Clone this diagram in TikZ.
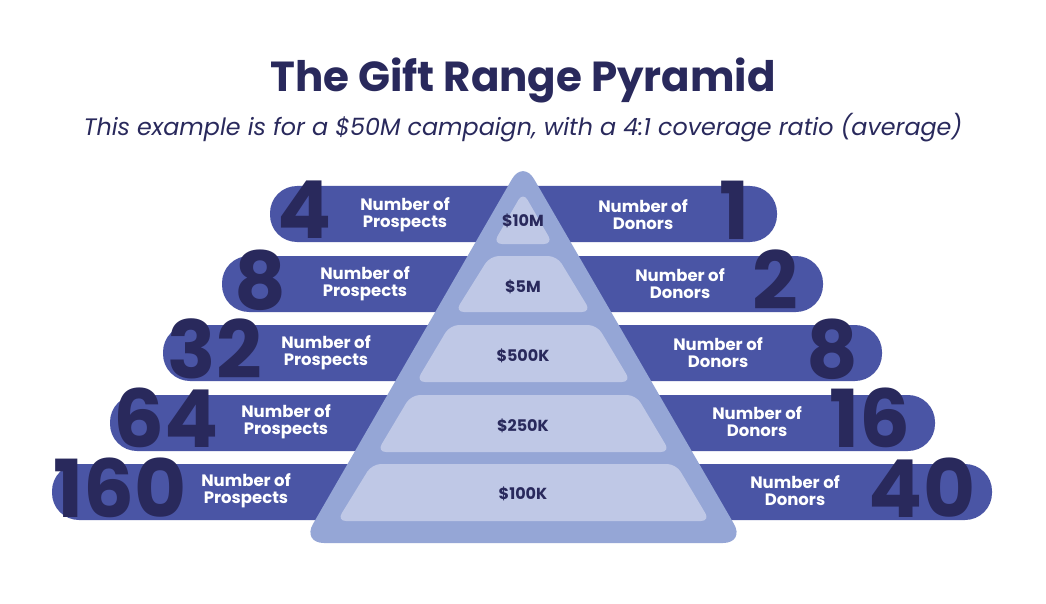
\documentclass[tikz,border=0pt]{standalone}
\usepackage{fontspec}
\setmainfont{Poppins}
\definecolor{bar}{HTML}{4A55A5}
\definecolor{dark}{HTML}{29295C}
\definecolor{pyr}{HTML}{95A6D6}
\definecolor{inner}{HTML}{BFC8E6}
\tikzset{
 barbox/.style={fill=bar,rounded corners=27pt},
 big/.style={font=\fontsize{80}{80}\selectfont\bfseries,text=dark,inner sep=0pt},
 lab/.style={font=\fontsize{16.5}{17}\selectfont\bfseries,text=white,align=center,inner sep=0pt},
 amt/.style={font=\fontsize{16}{16}\selectfont\bfseries,text=dark,inner sep=0pt},
 trap/.style={fill=inner,rounded corners=9pt}
}
\begin{document}
\begin{tikzpicture}[x=1pt,y=-1pt]
\useasboundingbox (0,0) rectangle (1046,604);
\fill[white] (0,0) rectangle (1046,604);
\node[font=\fontsize{42}{42}\selectfont\bfseries,text=dark] (title) at (523,80) {The Gift Range Pyramid};
\node[font=\fontsize{23.8}{24}\selectfont\itshape,text=dark] (sub) at (523,128) {This example is for a \$50M campaign, with a 4:1 coverage ratio (average)};
% bars
\foreach \i/\yt/\xl/\xr in {1/186/270/777,2/256/222/823,3/325/163/882,4/395/110/935,5/464/52/992}{
 \fill[barbox] (\xl,\yt) rectangle (\xr,\yt+56);
}
% numbers
\node[big] (l1) at (305,210) {4};
\node[big] (l2) at (260,280) {8};
\node[big] (l3) at (215,349) {32};
\node[big] (l4) at (166,418) {64};
\node[big] (l5) at (120,488) {160};
\node[big] (r1) at (735,210) {1};
\node[big] (r2) at (775,280) {2};
\node[big] (r3) at (832,349) {8};
\node[big] (r4) at (870,418) {16};
\node[big] (r5) at (922,488) {40};
% labels
\node[lab] (p1) at (405,215) {Number of\\Prospects};
\node[lab] (p2) at (365,284) {Number of\\Prospects};
\node[lab] (p3) at (326,353) {Number of\\Prospects};
\node[lab] (p4) at (286,422) {Number of\\Prospects};
\node[lab] (p5) at (246,491) {Number of\\Prospects};
\node[lab] (d1) at (643,215) {Number of\\Donors};
\node[lab] (d2) at (680,284) {Number of\\Donors};
\node[lab] (d3) at (718,353) {Number of\\Donors};
\node[lab] (d4) at (757,422) {Number of\\Donors};
\node[lab] (d5) at (795,491) {Number of\\Donors};
% pyramid
\fill[pyr,rounded corners=22pt] (523,160) -- (745,543) -- (302,543) -- cycle;
\fill[trap] (523,192) -- (553,244) -- (493,244) -- cycle;
\fill[trap] (490,256) -- (557,256) -- (591,312) -- (455,312) -- cycle;
\fill[trap] (450,325) -- (597,325) -- (631,382) -- (416,382) -- cycle;
\fill[trap] (411,395) -- (636,395) -- (670,452) -- (377,452) -- cycle;
\fill[trap] (372,464) -- (676,464) -- (710,521) -- (337,521) -- cycle;
\node[amt] (a1) at (523,221) {\$10M};
\node[amt] (a2) at (523,287) {\$5M};
\node[amt] (a3) at (523,356) {\$500K};
\node[amt] (a4) at (523,426) {\$250K};
\node[amt] (a5) at (523,494) {\$100K};
\end{tikzpicture}
\end{document}
